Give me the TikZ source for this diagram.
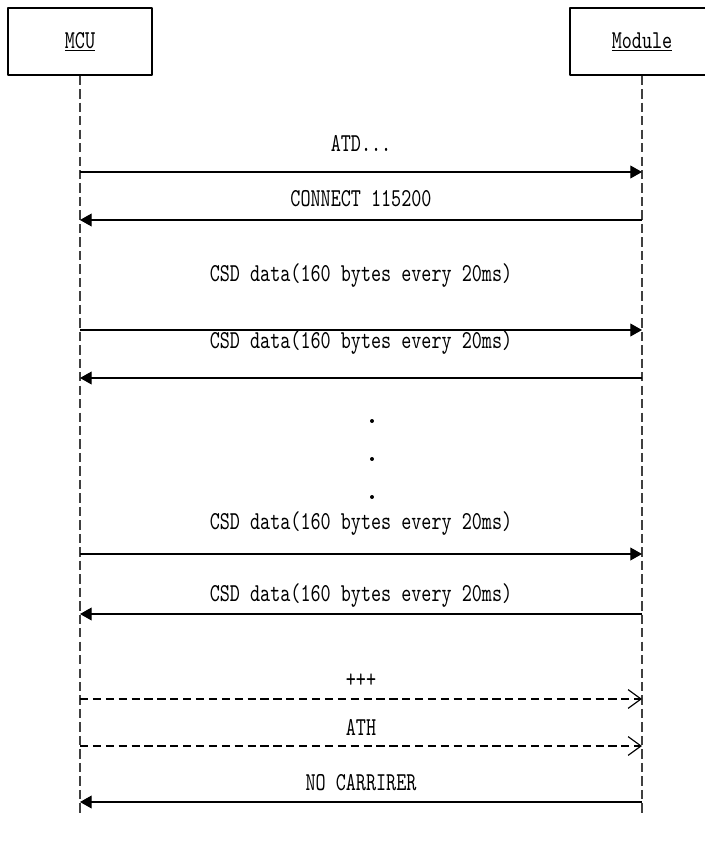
\documentclass[tikz,border=0pt]{standalone}
\usepackage{fontspec}
\newfontfamily\seqfont[FakeStretch=0.745]{lmmono10-regular.otf}
\usetikzlibrary{arrows.meta}
\begin{document}
\begin{tikzpicture}[x=0.03cm,y=-0.03cm,line join=round,>=Stealth,
		font=\seqfont\fontsize{22}{24}\selectfont]
			\tikzset{box/.style={draw,line width=1.2pt,minimum width=4.32cm,minimum height=2.01cm,inner sep=0pt},
				life/.style={draw=black!75,line width=1.4pt,dash pattern=on 8pt off 3.5pt},
				msg/.style={line width=1.1pt,-{Triangle[length=10pt,width=11pt]}},
				ret/.style={line width=1.1pt,dash pattern=on 7pt off 4pt,-{Straight Barb[length=11pt,width=16pt,line width=1pt]}},
				lbl/.style={midway,inner sep=0pt}}
			\def \u{0.03cm}
			\def \yend{815}
			\useasboundingbox (0,0) rectangle (705,843);
			\node[box] (mcu) at (80,41.5) {\underline{MCU}};
			\node[box] (module) at (642,41.5) {\underline{Module}};
			\coordinate (mcuend) at (mcu |- 0,\yend);
			\coordinate (modend) at (module |- 0,\yend);
			\draw[life] (mcu.south)--(mcuend);
			\draw[life] (module.south)--(modend);
			% call set up
			\draw[msg] (mcu |- 0,172)--(module |- 0,172) node[lbl,yshift=29*\u] {ATD...};
			\draw[msg] (module |- 0,220)--(mcu |- 0,220) node[lbl,yshift=21*\u] {CONNECT 115200};
			% data
			\draw[msg] (mcu |- 0,330)--(module |- 0,330) node[lbl,yshift=55*\u] {CSD data(160 bytes every 20ms)};
			\draw[msg] (module |- 0,378)--(mcu |- 0,378) node[lbl,yshift=36*\u] {CSD data(160 bytes every 20ms)};
			\foreach \y in {421,459,497} \fill (372,\y) circle (1.7pt);
			\draw[msg] (mcu |- 0,554)--(module |- 0,554) node[lbl,yshift=31*\u] {CSD data(160 bytes every 20ms)};
			\draw[msg] (module |- 0,614)--(mcu |- 0,614) node[lbl,yshift=19*\u] {CSD data(160 bytes every 20ms)};
			% hang up
			\draw[ret] (mcu |- 0,699)--(module |- 0,699) node[lbl,yshift=18*\u] {+++};
			\draw[ret] (mcu |- 0,746)--(module |- 0,746) node[lbl,yshift=19*\u] {ATH};
			\draw[msg] (module |- 0,802)--(mcu |- 0,802) node[lbl,yshift=19*\u] {NO CARRIRER};
		\end{tikzpicture}
\end{document}
